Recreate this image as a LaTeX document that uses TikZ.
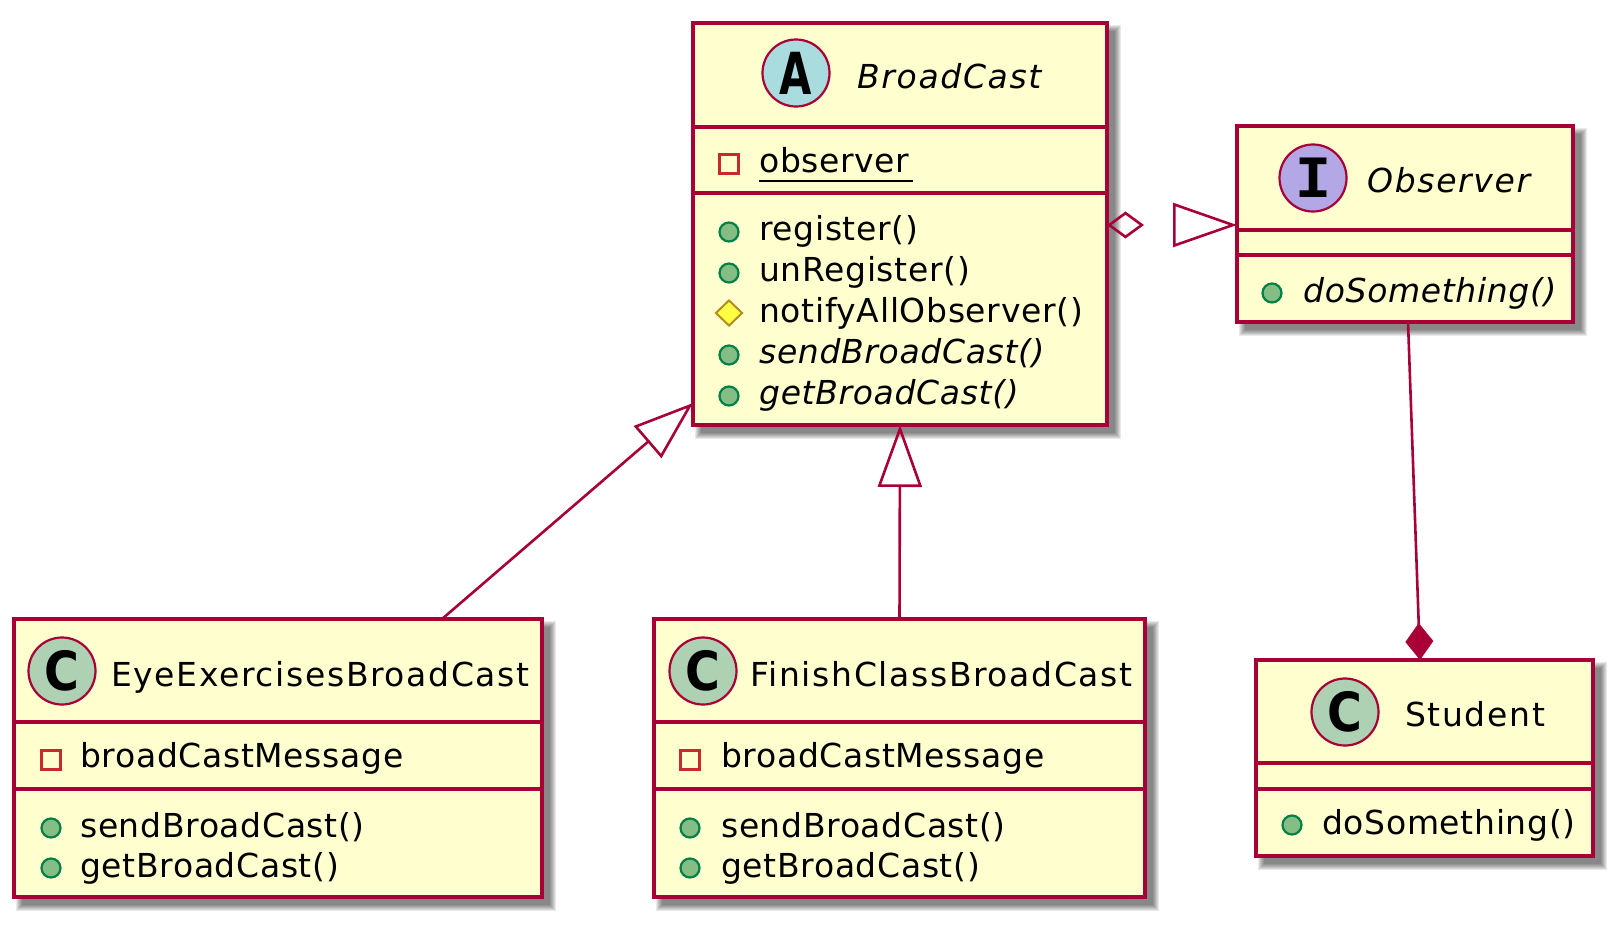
\documentclass[tikz,border=0pt]{standalone}
\usepackage{fontspec}
\setmainfont{DejaVu Sans}
\newfontfamily\umlf{DejaVu Sans}[LetterSpace=2]
\newfontfamily\umlh{DejaVu Sans}[LetterSpace=5]
\newfontfamily\spotf{DejaVu Sans}
\newfontfamily\spotm{Liberation Mono}
\usetikzlibrary{arrows.meta,calc,shapes.geometric,backgrounds}
\definecolor{uborder}{HTML}{A80036}
\definecolor{ufill}{HTML}{FEFECE}
\definecolor{spotA}{HTML}{A9DCDF}
\definecolor{spotI}{HTML}{B4A7E5}
\definecolor{spotC}{HTML}{ADD1B2}
\definecolor{pubfill}{HTML}{84BE84}
\definecolor{pubdraw}{HTML}{038048}
\definecolor{privdraw}{HTML}{C82930}
\definecolor{protfill}{HTML}{FFFF44}
\definecolor{protdraw}{HTML}{B38D22}
\begin{document}
\begin{tikzpicture}[x=1pt,y=-1pt,
  classbox/.style={draw=uborder, fill=ufill, line width=3.5pt, rectangle, inner sep=0pt, outer sep=0pt},
  divider/.style={draw=uborder, line width=3.5pt},
  conn/.style={draw=uborder, line width=2.6pt},
  member/.style={anchor=base west, inner sep=0pt, font=\umlf\fontsize{33}{39}\selectfont},
  mitalic/.style={anchor=base west, inner sep=0pt, font=\umlf\itshape\fontsize{33}{39}\selectfont},
  hname/.style={anchor=base west, inner sep=0pt, font=\umlh\fontsize{33}{39}\selectfont},
  hitalic/.style={anchor=base west, inner sep=0pt, font=\umlh\itshape\fontsize{33}{39}\selectfont},
  spot/.style={circle, draw=uborder, line width=2.2pt, minimum size=67pt, inner sep=0pt},
  spotletter/.style={inner sep=0pt, font=\spotf\bfseries\fontsize{54}{54}\selectfont},
  pub/.style={circle, draw=pubdraw, fill=pubfill, line width=2.2pt, minimum size=19pt, inner sep=0pt},
  priv/.style={rectangle, draw=privdraw, line width=2.2pt, minimum size=19pt, inner sep=0pt},
  prot/.style={diamond, draw=protdraw, fill=protfill, line width=2pt, minimum width=27pt, minimum height=26pt, inner sep=0pt},
  shade/.style={fill=black, opacity=0.085}
]
\useasboundingbox (0,0) rectangle (1624,924);

% ---------- boxes ----------
\node[classbox, minimum width=414pt, minimum height=402pt] (bc) at (900,224) {};
\node[classbox, minimum width=336pt, minimum height=196pt] (obs) at (1405,224) {};
\node[classbox, minimum width=528pt, minimum height=278pt] (eye) at (278,758) {};
\node[classbox, minimum width=491pt, minimum height=278pt] (fin) at (899.5,758) {};
\node[classbox, minimum width=337pt, minimum height=196pt] (stu) at (1424.5,758) {};

\begin{scope}[on background layer]
\foreach \n in {bc,obs,eye,fin,stu}{
  \foreach \k in {0,...,6}{
    \fill[shade] ($(\n.north west)+(2+\k,2+\k)$) rectangle ($(\n.south east)+(14-\k,14-\k)$);
  }
}
\end{scope}

% dividers
\draw[divider] ($(bc.north west)+(0,104)$) -- ($(bc.north east)+(0,104)$);
\draw[divider] ($(bc.north west)+(0,170)$) -- ($(bc.north east)+(0,170)$);
\draw[divider] ($(obs.north west)+(0,104)$) -- ($(obs.north east)+(0,104)$);
\draw[divider] ($(obs.north west)+(0,129)$) -- ($(obs.north east)+(0,129)$);
\draw[divider] ($(eye.north west)+(0,103)$) -- ($(eye.north east)+(0,103)$);
\draw[divider] ($(eye.north west)+(0,170)$) -- ($(eye.north east)+(0,170)$);
\draw[divider] ($(fin.north west)+(0,103)$) -- ($(fin.north east)+(0,103)$);
\draw[divider] ($(fin.north west)+(0,170)$) -- ($(fin.north east)+(0,170)$);
\draw[divider] ($(stu.north west)+(0,103)$) -- ($(stu.north east)+(0,103)$);
\draw[divider] ($(stu.north west)+(0,129)$) -- ($(stu.north east)+(0,129)$);

% ---------- BroadCast ----------
\node[spot, fill=spotA] (bcspot) at (796,73) {};
\node[spotletter, xscale=0.72, font=\spotf\bfseries\fontsize{58}{58}\selectfont] (bcspotL) at (bcspot) {A};
\node[hitalic] (bcname) at (857,88) {BroadCast};
\node[priv] (bcp1) at (729,164) {};
\node[member] (bcf1) at (759,172) {observer};
\draw[line width=2.4pt] ([yshift=-9pt]bcf1.base west) -- ([yshift=-9pt,xshift=3pt]bcf1.base east);
\node[pub] (bci1) at (729,232) {};
\node[member] (bcm1) at (759,240) {register()};
\node[pub] (bci2) at (729,273) {};
\node[member] (bcm2) at (759,281) {unRegister()};
\node[prot] (bci3) at (729,313) {};
\node[member] (bcm3) at (759,322) {notifyAllObserver()};
\node[pub] (bci4) at (729,355) {};
\node[mitalic] (bcm4) at (759,363) {sendBroadCast()};
\node[pub] (bci5) at (729,396) {};
\node[mitalic] (bcm5) at (759,404) {getBroadCast()};

% ---------- Observer ----------
\node[spot, fill=spotI] (obsspot) at (1313,178) {};
\node[inner sep=0pt, font=\spotm\bfseries\fontsize{60}{60}\selectfont] (obsspotL) at (obsspot) {I};
\node[hitalic] (obsname) at (1367,192) {Observer};
\node[pub] (obsi1) at (1272,293) {};
\node[mitalic] (obsm1) at (1303,302) {doSomething()};

% ---------- EyeExercisesBroadCast ----------
\node[spot, fill=spotC] (eyespot) at (62,671) {};
\node[spotletter, xscale=0.88] (eyespotL) at (eyespot) {C};
\node[hname] (eyename) at (111,686) {EyeExercisesBroadCast};
\node[priv] (eyep1) at (51,760) {};
\node[member] (eyef1) at (80,767) {broadCastMessage};
\node[pub] (eyei1) at (51,828) {};
\node[member] (eyem1) at (80,837) {sendBroadCast()};
\node[pub] (eyei2) at (51,868) {};
\node[member] (eyem2) at (80,877) {getBroadCast()};

% ---------- FinishClassBroadCast ----------
\node[spot, fill=spotC] (finspot) at (703,671) {};
\node[spotletter, xscale=0.88] (finspotL) at (finspot) {C};
\node[hname] (finname) at (750,686) {FinishClassBroadCast};
\node[priv] (finp1) at (690,760) {};
\node[member] (finf1) at (721,767) {broadCastMessage};
\node[pub] (fini1) at (690,828) {};
\node[member] (finm1) at (721,837) {sendBroadCast()};
\node[pub] (fini2) at (690,868) {};
\node[member] (finm2) at (721,877) {getBroadCast()};

% ---------- Student ----------
\node[spot, fill=spotC] (stuspot) at (1345,712) {};
\node[spotletter, xscale=0.88] (stuspotL) at (stuspot) {C};
\node[hname] (stuname) at (1405,726) {Student};
\node[pub] (stui1) at (1292,825) {};
\node[member] (stum1) at (1322,834) {doSomething()};

% ---------- connectors ----------
\draw[conn, -{Triangle[open, length=62pt, width=44pt]}] (fin.north) -- (bc.south);
\draw[conn, -{Triangle[open, length=60pt, width=42pt]}] ([xshift=164pt]eye.north) -- ([yshift=22pt]bc.south west);
\draw[conn, dash pattern=on 0pt off 2000pt,
      {Diamond[open, length=37pt, width=27pt]}-{Triangle[open, length=64pt, width=44pt]}]
      ([yshift=-1pt]bc.east) -- ([yshift=-1pt]obs.west);
\draw[conn, -{Diamond[length=37pt, width=28pt]}] ([xshift=3pt]obs.south) -- ([xshift=-4.5pt]stu.north);
\end{tikzpicture}
\end{document}
